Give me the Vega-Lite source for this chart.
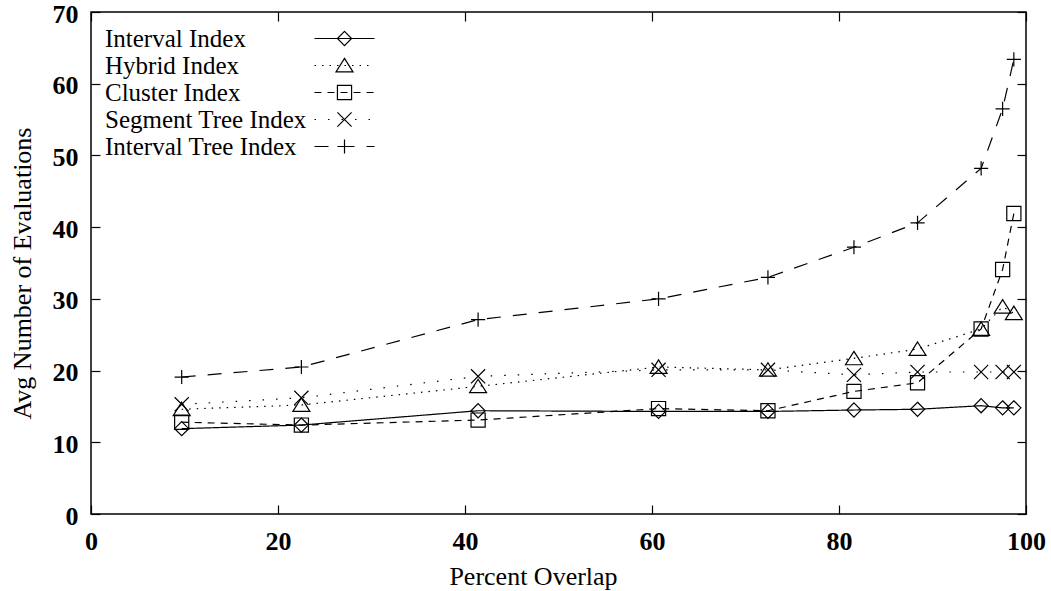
{
  "$schema": "https://vega.github.io/schema/vega-lite/v6.json",
  "width": 935,
  "height": 502,
  "autosize": {"type": "none"},
  "padding": {"left": 91, "top": 12, "right": 25, "bottom": 77},
  "background": "white",
  "data": {
    "values": [
      {"series": "Interval Index", "overlap": 9.7, "evaluations": 11.9},
      {"series": "Interval Index", "overlap": 22.5, "evaluations": 12.4},
      {"series": "Interval Index", "overlap": 41.4, "evaluations": 14.4},
      {"series": "Interval Index", "overlap": 60.7, "evaluations": 14.3},
      {"series": "Interval Index", "overlap": 72.4, "evaluations": 14.3},
      {"series": "Interval Index", "overlap": 81.6, "evaluations": 14.5},
      {"series": "Interval Index", "overlap": 88.4, "evaluations": 14.6},
      {"series": "Interval Index", "overlap": 95.2, "evaluations": 15.1},
      {"series": "Interval Index", "overlap": 97.5, "evaluations": 14.8},
      {"series": "Interval Index", "overlap": 98.7, "evaluations": 14.8},
      {"series": "Hybrid Index", "overlap": 9.7, "evaluations": 14.6},
      {"series": "Hybrid Index", "overlap": 22.5, "evaluations": 15.2},
      {"series": "Hybrid Index", "overlap": 41.4, "evaluations": 17.8},
      {"series": "Hybrid Index", "overlap": 60.7, "evaluations": 20.5},
      {"series": "Hybrid Index", "overlap": 72.4, "evaluations": 20.1},
      {"series": "Hybrid Index", "overlap": 81.6, "evaluations": 21.7},
      {"series": "Hybrid Index", "overlap": 88.4, "evaluations": 23.0},
      {"series": "Hybrid Index", "overlap": 95.2, "evaluations": 25.8},
      {"series": "Hybrid Index", "overlap": 97.5, "evaluations": 28.9},
      {"series": "Hybrid Index", "overlap": 98.7, "evaluations": 28.0},
      {"series": "Cluster Index", "overlap": 9.7, "evaluations": 12.8},
      {"series": "Cluster Index", "overlap": 22.5, "evaluations": 12.4},
      {"series": "Cluster Index", "overlap": 41.4, "evaluations": 13.1},
      {"series": "Cluster Index", "overlap": 60.7, "evaluations": 14.7},
      {"series": "Cluster Index", "overlap": 72.4, "evaluations": 14.4},
      {"series": "Cluster Index", "overlap": 81.6, "evaluations": 17.1},
      {"series": "Cluster Index", "overlap": 88.4, "evaluations": 18.3},
      {"series": "Cluster Index", "overlap": 95.2, "evaluations": 25.8},
      {"series": "Cluster Index", "overlap": 97.5, "evaluations": 34.1},
      {"series": "Cluster Index", "overlap": 98.7, "evaluations": 41.9},
      {"series": "Segment Tree Index", "overlap": 9.7, "evaluations": 15.3},
      {"series": "Segment Tree Index", "overlap": 22.5, "evaluations": 16.2},
      {"series": "Segment Tree Index", "overlap": 41.4, "evaluations": 19.2},
      {"series": "Segment Tree Index", "overlap": 60.7, "evaluations": 20.1},
      {"series": "Segment Tree Index", "overlap": 72.4, "evaluations": 20.1},
      {"series": "Segment Tree Index", "overlap": 81.6, "evaluations": 19.4},
      {"series": "Segment Tree Index", "overlap": 88.4, "evaluations": 19.8},
      {"series": "Segment Tree Index", "overlap": 95.2, "evaluations": 19.8},
      {"series": "Segment Tree Index", "overlap": 97.5, "evaluations": 19.8},
      {"series": "Segment Tree Index", "overlap": 98.7, "evaluations": 19.8},
      {"series": "Interval Tree Index", "overlap": 9.7, "evaluations": 19.1},
      {"series": "Interval Tree Index", "overlap": 22.5, "evaluations": 20.5},
      {"series": "Interval Tree Index", "overlap": 41.4, "evaluations": 27.1},
      {"series": "Interval Tree Index", "overlap": 60.7, "evaluations": 30.0},
      {"series": "Interval Tree Index", "overlap": 72.4, "evaluations": 33.0},
      {"series": "Interval Tree Index", "overlap": 81.6, "evaluations": 37.2},
      {"series": "Interval Tree Index", "overlap": 88.4, "evaluations": 40.6},
      {"series": "Interval Tree Index", "overlap": 95.2, "evaluations": 48.2},
      {"series": "Interval Tree Index", "overlap": 97.5, "evaluations": 56.5},
      {"series": "Interval Tree Index", "overlap": 98.7, "evaluations": 63.4}
    ]
  },
  "config": {
    "font": "Liberation Serif",
    "view": {"stroke": "black", "strokeWidth": 1.5},
    "axis": {
      "grid": false,
      "domain": false,
      "tickColor": "black",
      "tickWidth": 1.2,
      "tickSize": -9,
      "labelColor": "black",
      "labelFont": "Liberation Serif",
      "labelFontSize": 26,
      "labelFontWeight": "bold",
      "labelFlush": false,
      "labelOverlap": false,
      "titleFont": "Liberation Serif",
      "titleFontSize": 26,
      "titleFontWeight": "normal",
      "titleColor": "black"
    },
    "legend": {
      "labelFont": "Liberation Serif",
      "labelFontSize": 25,
      "labelColor": "black",
      "labelLimit": 400
    }
  },
  "layer": [
    {
      "mark": {"type": "line", "color": "black", "strokeWidth": 1.2},
      "encoding": {
        "x": {
          "field": "overlap", "type": "quantitative",
          "scale": {"domain": [0, 100], "nice": false, "zero": false},
          "axis": {
            "orient": "bottom", "values": [0, 20, 40, 60, 80, 100],
            "title": "Percent Overlap", "labelPadding": 23,
            "titleX": 442, "titleY": 70, "titleBaseline": "alphabetic", "titleAlign": "center", "titleAnchor": null
          }
        },
        "y": {
          "field": "evaluations", "type": "quantitative",
          "scale": {"domain": [0, 70], "nice": false, "zero": false},
          "axis": {
            "orient": "left", "values": [0, 10, 20, 30, 40, 50, 60, 70],
            "title": "Avg Number of Evaluations", "labelPadding": 22, "labelOffset": 2,
            "titleX": -61, "titleY": 261, "titleAngle": -90, "titleBaseline": "alphabetic", "titleAlign": "center", "titleAnchor": null
          }
        },
        "strokeDash": {
          "field": "series", "type": "nominal",
          "scale": {
            "domain": ["Interval Index", "Hybrid Index", "Cluster Index", "Segment Tree Index", "Interval Tree Index"],
            "range": [[1, 0], [1.5, 6], [7, 6], [1.5, 12], [14, 12]]
          },
          "legend": {
            "orient": "none", "legendX": 14, "legendY": 14, "title": null, "padding": 0,
            "symbolType": "M-3,0L3,0", "symbolSize": 400,
            "symbolStrokeColor": "black", "symbolStrokeWidth": 1.2,
            "labelOffset": -252, "symbolOffset": 227, "rowPadding": 1
          }
        }
      }
    },
    {
      "mark": {"type": "point", "filled": false, "color": "black", "size": 200, "strokeWidth": 1.2, "opacity": 1},
      "encoding": {
        "x": {
          "field": "overlap", "type": "quantitative",
          "axis": {"orient": "top", "values": [0, 20, 40, 60, 80, 100], "labels": false, "title": null}
        },
        "y": {
          "field": "evaluations", "type": "quantitative",
          "axis": {"orient": "right", "values": [0, 10, 20, 30, 40, 50, 60, 70], "labels": false, "title": null}
        },
        "shape": {
          "field": "series", "type": "nominal",
          "sort": ["Interval Index", "Hybrid Index", "Cluster Index", "Segment Tree Index", "Interval Tree Index"],
          "scale": {
            "range": ["M0,-1L1,0L0,1L-1,0Z", "M0,-1L1.2,0.9L-1.2,0.9Z", "square", "M-1,-1L1,1M-1,1L1,-1", "M-1,0L1,0M0,-1L0,1"]
          },
          "legend": {
            "orient": "none", "legendX": 14, "legendY": 14, "title": null, "padding": 0,
            "symbolSize": 200, "symbolStrokeColor": "black", "symbolStrokeWidth": 1.2, "symbolFillColor": "transparent",
            "labelOffset": 60, "symbolOffset": 227, "rowPadding": 1, "labelExpr": "' '", "labelOpacity": 0
          }
        }
      }
    }
  ],
  "resolve": {"axis": {"x": "independent", "y": "independent"}}
}
